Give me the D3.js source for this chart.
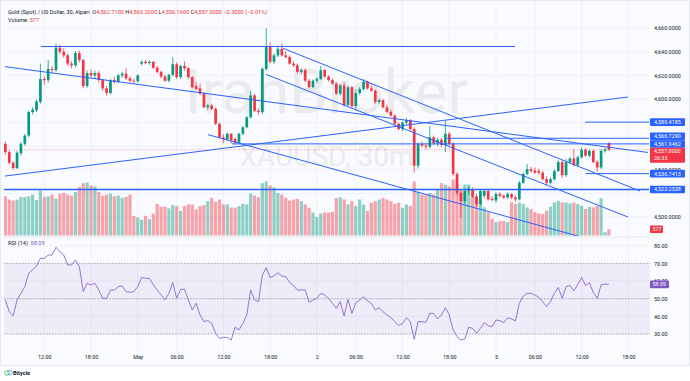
<!DOCTYPE html>
<html>
<head>
<meta charset="utf-8">
<script src="https://cdn.jsdelivr.net/npm/d3@7"></script>
<style>
	body { margin: 0; background: #ffffff; }
	svg { display: block; font-family: Roboto, 'Liberation Sans', sans-serif; }
</style>
</head>
<body>
<div id="chart"></div>
<script>
let width = 690
let height = 381

// 30m candles, Apr 30 07:00 -> May 5 15:30
let opens = [4562,4555,4546,4541.5,4554,4562,4569,4589,4590.5,4597.5,4617,4616,4625.5,4624.5,4643.5,4640,4637,4630,4628.5,4639,
	4633,4611,4622,4620,4622,4616,4609,4605,4616,4614.5,4620,4621.5,4617.5,4615.5,4615,4630,4631.5,4630.5,4631.5,4626.5,
	4623,4619,4615.5,4620.5,4629.5,4618.5,4628,4626,4618.5,4611,4609,4604.5,4593,4594.5,4591.5,4579,4567.5,4566,4570.5,4566,
	4563,4570.5,4576,4584.5,4603,4590,4589,4625.5,4644,4631.5,4637,4642.5,4637,4635.5,4630,4628.5,4623,4624.5,4615.5,4610,
	4615.5,4617,4624.5,4619,4616,4613,4604.5,4611.5,4595,4610,4594,4605,4608.5,4614.5,4609,4607,4597.5,4599,4593,4589,
	4586,4579,4574.5,4580,4582,4574.5,4543.5,4562,4560.5,4559.5,4567.5,4562.5,4565.5,4561,4570.5,4562,4536.5,4520.5,4513.5,4522,
	4523.5,4517.5,4511,4518,4522,4515.5,4514,4519.5,4518,4516.5,4519.5,4516.5,4515,4529,4536.5,4540.5,4539.5,4539,4537.5,4532,
	4529,4532,4539,4546.5,4535.5,4546.5,4549.5,4544,4550.5,4557,4552,4556,4546.5,4542,4556,4562.71]
let highs = [4564,4556.5,4547,4556,4563.5,4570.5,4590,4593,4599.5,4630,4619,4633,4628,4647,4646,4643,4638.5,4632,4640.5,4641,
	4634,4624,4625,4624,4623.5,4617,4611,4617,4619,4621.5,4623,4626,4619,4617,4621,4632.5,4633,4632.5,4632,4628,
	4624,4620.5,4621.5,4635.5,4631,4629,4632,4627,4619.5,4614.5,4613,4606,4596,4596,4593,4580,4570,4571.5,4571,4567.5,
	4571.5,4577,4585.5,4607,4604.5,4592,4627,4660,4648,4638.5,4644,4647,4640.5,4637,4632,4630,4626,4626,4617,4616.5,
	4618.5,4628,4625.5,4620,4617.5,4614,4612.5,4614,4611.5,4611,4608,4610,4617,4615.5,4611.5,4608,4600.5,4600,4595,4591,
	4587,4580,4581,4584,4583,4576,4563,4564,4563,4577,4569,4567,4567,4581.5,4572,4563.5,4538,4522,4523.5,4526,
	4525,4520,4523.5,4523.5,4523.5,4517.5,4521,4521,4519,4521,4520,4518,4530.5,4537.5,4545,4542.5,4542,4541,4539,4534.5,
	4533.5,4540.5,4548,4548,4549,4551,4557.5,4552,4559,4558,4557.5,4557,4548,4557.5,4559,4563.2]
let lows = [4553,4545,4540,4540.5,4552,4560.5,4567.5,4587,4589,4596,4612,4614,4622,4623,4638,4635,4628,4626,4627,4631,
	4609,4609.5,4618,4617,4614,4607,4603,4604,4613,4613.5,4618,4616,4614,4613.5,4614,4628.5,4629.5,4629,4625.5,4621.5,
	4617.5,4614.5,4614,4619,4617,4617,4624,4617,4609,4607.5,4603.5,4592,4591,4590.5,4578,4566.5,4562.5,4564.5,4562,4561.5,
	4562,4569,4575,4583.5,4589,4586.5,4587,4624,4630,4629.5,4635.5,4636,4634.5,4629,4627,4621.5,4621,4614.5,4609,4609,
	4613.5,4616,4618,4615,4612,4603.5,4603,4593.5,4594,4592.5,4591,4603.5,4607,4608,4606,4596,4596,4592,4588,4585,
	4578,4573.5,4573,4578.5,4573.5,4537.5,4541,4559,4557.5,4558,4561,4560,4559,4555,4560.5,4535,4518.5,4499.5,4511,4519,
	4516,4509,4509.5,4516,4514,4513.5,4512,4516.5,4515,4515.5,4515,4513,4514,4528,4535.5,4537.5,4536.5,4536,4531,4527,
	4527.5,4531,4538,4533,4534,4545,4543,4542.5,4549.5,4551,4550.5,4545.5,4538.5,4540.5,4554.5,4556.16]
let closes = [4555,4546,4541.5,4554.5,4562,4569,4589,4591,4598,4617,4616,4625.5,4624.5,4643.5,4640,4637,4630,4628.5,4639,4633,
	4611,4622,4620,4622,4616,4609,4605,4616,4614.5,4620,4621.5,4617.5,4615.5,4615,4620,4631.5,4630.5,4631.5,4626.5,4623,
	4619,4615.5,4620.5,4629.5,4618.5,4628,4626,4618.5,4610,4608.5,4604.5,4593,4594.5,4591.5,4579,4567.5,4566,4570.5,4565,4563,
	4570.5,4576,4584.5,4603,4590,4589,4625.5,4644,4631.5,4637,4642.5,4637,4635.5,4630,4628.5,4623,4624.5,4615.5,4610,4615.5,
	4617,4624.5,4619,4616,4613,4604.5,4611.5,4595,4610,4594,4605,4608.5,4614.5,4609,4607,4597.5,4599,4593,4589,4586,
	4579,4574.5,4580,4582,4574.5,4543.5,4562,4560.5,4559.5,4567.5,4562.5,4565.5,4561,4570.5,4562,4536.5,4520.5,4513.5,4522,4523.5,
	4517.5,4511,4522,4522,4515,4514.5,4519.5,4518,4516.5,4519.5,4516.5,4515,4529,4536.5,4540.5,4539,4537.5,4537.5,4532,4529,
	4532,4539,4546.5,4535.5,4546.5,4549.5,4544,4550.5,4557,4552,4556,4546.5,4542,4556,4557.3,4557]
let volumes = [3600,3300,3210,3300,3540,3540,3600,3750,3240,4110,3540,3600,3750,3390,3840,3900,3750,3660,3990,4440,
	4800,4860,4590,4500,3990,3660,3750,3840,3600,3660,3450,3540,3750,1800,1650,1440,1800,1500,2010,2910,
	2640,2640,2490,2790,2700,2250,2700,2850,2850,2400,2700,2790,3150,3450,3090,3300,2850,2850,2550,2550,
	2700,2910,2850,3840,3660,3510,4800,4950,4590,4410,3900,3750,3450,3210,3300,3360,3150,2850,2550,2100,
	1710,2010,2100,2100,2160,3450,3510,3300,2850,3150,2700,3300,2850,2250,3000,3150,3300,3450,3300,3150,
	2910,3000,2550,2850,2700,4950,4000,3770,3700,3900,3770,4200,4800,4660,4500,5130,4680,4230,4680,4680,
	3930,3480,3180,2580,2130,1530,1230,1320,1320,1230,3030,2880,3030,2880,2580,2430,2130,2040,1980,2280,
	2640,3030,3180,3030,3030,2940,3030,2880,2730,2430,2640,2580,2700,3420,300,577]
let rsi = [49.3,42.6,40.2,49.3,53.0,56.8,64.4,66.2,68.5,72.8,72.8,74.7,74.7,79.1,76.6,74.7,69.1,69.1,71.9,68.1,
	54.0,58.7,57.8,58.7,54.9,50.2,50.2,54.9,54.9,56.8,57.2,54.0,53.6,54.0,56.8,62.1,61.5,61.5,57.8,54.9,
	52.1,49.3,53.0,59.1,50.2,55.3,55.3,49.3,43.6,47.4,40.8,37.0,37.6,36.0,30.4,27.5,28.1,28.1,26.6,33.8,
	32.3,36.0,40.8,54.9,49.3,48.3,63.4,67.6,61.9,63.0,64.7,62.8,62.5,59.1,57.4,54.9,54.9,54.9,47.9,49.3,
	50.2,53.0,52.1,50.2,47.4,44.5,48.3,40.2,49.6,41.7,47.7,49.3,51.1,48.7,47.4,43.6,44.9,42.6,40.8,39.4,
	37.0,34.9,36.0,39.2,37.0,27.0,37.0,37.0,36.6,41.7,41.7,38.5,40.8,44.9,40.8,32.3,28.5,26.6,27.2,33.8,
	33.2,30.4,33.2,36.4,34.7,34.2,37.9,37.6,36.4,39.2,38.5,37.4,47.4,51.5,53.0,53.0,52.1,50.8,48.3,45.5,
	48.3,53.0,56.4,50.2,56.8,57.4,54.5,58.1,62.1,57.4,59.1,53.4,50.2,57.8,58.3,58.09]

let timeTicks = [10,22,34,44,56,68,80,90,102,114,126,136,148,160]
let timeLabels = ['12:00','18:00','May','06:00','12:00','18:00','2','06:00','12:00','18:00','5','06:00','12:00','18:00']
let priceTicks = [4500,4520,4540,4560,4580,4600,4620,4640,4660]
// labels of these ticks sit under the coloured price boxes
let hiddenPriceTicks = [4520,4560,4580]
let rsiTicks = [30,40,50,60,70,80]
let rsiLevels = [70,50,30]

// drawn trend lines [bar, price, bar, price]
let trendLines = [
	[9.15,4644.5,130.9,4644.5],
	[-0.1,4627.4,165,4554.7],
	[-0.1,4534.7,159.9,4601.7],
	[52.0,4569.8,148,4483],
	[71.3,4643,163,4522],
	[66.9,4620.9,159.9,4500],
]
let levelValues = [4580.4185,4566.7290,4561.9462,4536.7413,4523.2538]
let levelStarts = [148.9,113.4,58.2,149,-1]

let lastPrice = 4557.0
let lastVolume = 577
let lastRsi = 58.09
let countdown = '26:33'

let plot = { left : 4, right : 649, top : 1, bottom : 236 }
let rsiPane = { top : 238, bottom : 352 }

let up = '#089981'
let down = '#f23645'
let blue = '#2962ff'
let purple = '#7e57c2'
let textColor = '#131722'
let gridColor = '#eef1f7'

let x = d3.scaleLinear()
	.domain([0,155])
	.range([5.36,608.9])

let y = d3.scaleLinear()
	.domain([4500,4600])
	.range([217,99])

let yVol = d3.scaleLinear()
	.domain([0,5000])
	.range([235.5,181])

let yRsi = d3.scaleLinear()
	.domain([30,80])
	.range([334,245.7])

let svg = d3.select('#chart').append('svg')
	.attr('width',width)
	.attr('height',height)
	.style('font-size','5.4px')

svg.append('rect')
	.attr('x',0.5).attr('y',0.5)
	.attr('width',width-1).attr('height',365)
	.attr('fill','#fafbfe')
	.attr('stroke','#e6e9f0')

let defs = svg.append('defs')
defs.append('clipPath').attr('id','mainClip')
	.append('rect')
	.attr('x',plot.left).attr('y',plot.top)
	.attr('width',plot.right-plot.left).attr('height',plot.bottom-plot.top)

// grid
let grid = svg.append('g')
grid.selectAll('.vgrid')
	.data(timeTicks)
	.enter()
	.append('line')
	.attr('x1',(d) => x(d)).attr('x2',(d) => x(d))
	.attr('y1',plot.top).attr('y2',rsiPane.bottom)
	.attr('stroke',gridColor)
grid.selectAll('.hgrid')
	.data(priceTicks)
	.enter()
	.append('line')
	.attr('x1',plot.left).attr('x2',plot.right)
	.attr('y1',(d) => y(d)).attr('y2',(d) => y(d))
	.attr('stroke',gridColor)
grid.selectAll('.rgrid')
	.data(rsiTicks)
	.enter()
	.append('line')
	.attr('x1',plot.left).attr('x2',plot.right)
	.attr('y1',(d) => yRsi(d)).attr('y2',(d) => yRsi(d))
	.attr('stroke',gridColor)

svg.append('line')
	.attr('x1',plot.left).attr('x2',plot.right)
	.attr('y1',237).attr('y2',237)
	.attr('stroke','#e3e6ee')

// watermark
svg.append('text')
	.text('IranBroker')
	.attr('x',(plot.left+plot.right)/2)
	.attr('y',113)
	.attr('text-anchor','middle')
	.attr('fill','#e9ebef')
	.style('font-size','62px')
svg.append('text')
	.text('XAUUSD, 30m')
	.attr('x',(plot.left+plot.right)/2)
	.attr('y',166)
	.attr('text-anchor','middle')
	.attr('fill','#e9ebef')
	.style('font-size','28px')

let main = svg.append('g').attr('clip-path','url(#mainClip)')

let bars = d3.range(opens.length)
let isUp = (i) => closes[i] >= opens[i]

main.selectAll('.vol')
	.data(bars)
	.enter()
	.append('rect')
	.attr('x',(i) => x(i)-1.6)
	.attr('width',3.2)
	.attr('y',(i) => yVol(volumes[i]))
	.attr('height',(i) => yVol(0)-yVol(volumes[i]))
	.attr('fill',(i) => isUp(i) ? up : down)
	.attr('fill-opacity',0.45)

main.append('line')
	.attr('x1',plot.left).attr('x2',plot.right)
	.attr('y1',y(lastPrice)).attr('y2',y(lastPrice))
	.attr('stroke',down)
	.attr('stroke-opacity',0.5)
	.attr('stroke-dasharray','1,1.5')

main.selectAll('.wick')
	.data(bars)
	.enter()
	.append('line')
	.attr('x1',(i) => x(i)).attr('x2',(i) => x(i))
	.attr('y1',(i) => y(highs[i])).attr('y2',(i) => y(lows[i]))
	.attr('stroke',(i) => isUp(i) ? up : down)
	.attr('stroke-width',0.8)

main.selectAll('.body')
	.data(bars)
	.enter()
	.append('rect')
	.attr('x',(i) => x(i)-1.35)
	.attr('width',2.7)
	.attr('y',(i) => y(Math.max(opens[i],closes[i])))
	.attr('height',(i) => Math.max(0.8,Math.abs(y(opens[i])-y(closes[i]))))
	.attr('fill',(i) => isUp(i) ? up : down)

main.selectAll('.trend')
	.data(trendLines)
	.enter()
	.append('line')
	.attr('x1',(d) => x(d[0])).attr('y1',(d) => y(d[1]))
	.attr('x2',(d) => x(d[2])).attr('y2',(d) => y(d[3]))
	.attr('stroke',blue)
	.attr('stroke-width',1)

main.selectAll('.level')
	.data(levelValues)
	.enter()
	.append('line')
	.attr('x1',(d,i) => Math.max(plot.left,x(levelStarts[i])))
	.attr('x2',plot.right)
	.attr('y1',(d) => y(d)).attr('y2',(d) => y(d))
	.attr('stroke',blue)
	.attr('stroke-width',(d,i) => i == 4 ? 1.6 : 1)

// RSI pane
let rsiG = svg.append('g')
rsiG.append('rect')
	.attr('x',plot.left).attr('width',plot.right-plot.left+1)
	.attr('y',yRsi(70)).attr('height',yRsi(30)-yRsi(70))
	.attr('fill',purple)
	.attr('fill-opacity',0.09)
rsiG.selectAll('.lvl')
	.data(rsiLevels)
	.enter()
	.append('line')
	.attr('x1',plot.left).attr('x2',plot.right+1)
	.attr('y1',(d) => yRsi(d)).attr('y2',(d) => yRsi(d))
	.attr('stroke','#9598a1')
	.attr('stroke-width',0.7)
	.attr('stroke-dasharray','1.5,1.5')
rsiG.append('path')
	.datum(rsi)
	.attr('d',d3.line().x((d,i) => x(i)).y((d) => yRsi(d)))
	.attr('fill','none')
	.attr('stroke',purple)
	.attr('stroke-width',0.8)

// axes
let priceAxis = d3.axisRight(y)
	.tickValues(priceTicks.filter((d) => !hiddenPriceTicks.includes(d)))
	.tickSize(0)
	.tickPadding(4)
	.tickFormat(d3.format(',.4f'))
svg.append('g')
	.attr('transform',`translate(${plot.right+1},0)`)
	.call(priceAxis)
	.call((g) => g.select('.domain').remove())

let rsiAxis = d3.axisRight(yRsi)
	.tickValues(rsiTicks)
	.tickSize(0)
	.tickPadding(4)
	.tickFormat(d3.format('.2f'))
svg.append('g')
	.attr('transform',`translate(${plot.right+1},0)`)
	.call(rsiAxis)
	.call((g) => g.select('.domain').remove())

let timeAxis = d3.axisBottom(x)
	.tickValues(timeTicks)
	.tickSize(0)
	.tickPadding(3)
	.tickFormat((d,i) => timeLabels[i])
svg.append('g')
	.attr('transform',`translate(0,${rsiPane.bottom})`)
	.call(timeAxis)
	.call((g) => g.select('.domain').remove())

svg.selectAll('.tick text')
	.attr('fill',textColor)
	.style('font-size','5.4px')
	.style('font-family','Roboto, sans-serif')

// price labels on the axis
let boxes = levelValues.map((v) => ({ value : v, color : blue, h : 7.6 }))
boxes.push({ value : lastPrice, color : down, h : 7.6, extra : countdown })
boxes.forEach((b) => { b.cy = y(b.value) })
boxes.sort((a,b) => a.cy - b.cy)
for (let k = 0; k < 30; k++) {
	for (let j = 1; j < boxes.length; j++) {
		let gap = boxes[j].cy - boxes[j-1].cy
		let need = boxes[j-1].extra ? 15 : 7.6
		if (gap < need) {
			boxes[j-1].cy -= (need-gap)/2
			boxes[j].cy += (need-gap)/2
		}
	}
}

let labelG = svg.append('g')
boxes.forEach((b) => {
	labelG.append('rect')
		.attr('x',plot.right+1).attr('y',b.cy-b.h/2)
		.attr('width',35).attr('height',b.extra ? 15 : b.h)
		.attr('rx',1)
		.attr('fill',b.color)
	labelG.append('text')
		.text(d3.format(',.4f')(b.value))
		.attr('x',plot.right+5).attr('y',b.cy)
		.attr('dy','0.35em')
		.attr('fill','#ffffff')
	if (b.extra) {
		labelG.append('text')
			.text(b.extra)
			.attr('x',plot.right+5).attr('y',b.cy+7)
			.attr('dy','0.35em')
			.attr('fill','#ffffff')
	}
})

labelG.append('rect')
	.attr('x',plot.right+1).attr('y',yVol(lastVolume)-3.8)
	.attr('width',13).attr('height',7.6)
	.attr('rx',1)
	.attr('fill',down)
labelG.append('text')
	.text(lastVolume)
	.attr('x',plot.right+3.5).attr('y',yVol(lastVolume))
	.attr('dy','0.35em')
	.attr('fill','#ffffff')

labelG.append('rect')
	.attr('x',plot.right+1).attr('y',yRsi(lastRsi)-3.8)
	.attr('width',19).attr('height',7.6)
	.attr('rx',1)
	.attr('fill',purple)
labelG.append('text')
	.text(lastRsi.toFixed(2))
	.attr('x',plot.right+3.5).attr('y',yRsi(lastRsi))
	.attr('dy','0.35em')
	.attr('fill','#ffffff')

// legend
let legend = svg.append('text')
	.attr('x',8).attr('y',13.5)
	.style('font-size','5.6px')
	.attr('fill',textColor)
legend.append('tspan').text('Gold (Spot) / US Dollar, 30, Alpari\u00a0\u00a0')
let ohlc = [['O','4,562.7100'],['H','4,563.2000'],['L','4,556.1600'],['C','4,557.0000']]
ohlc.forEach((d) => {
	legend.append('tspan').text(d[0])
	legend.append('tspan').text(d[1] + '\u00a0').attr('fill',down)
})
legend.append('tspan').text('\u22120.3000 (\u22120.01%)').attr('fill',down)

let volLegend = svg.append('text')
	.attr('x',8).attr('y',21.5)
	.style('font-size','5.6px')
	.attr('fill',textColor)
volLegend.append('tspan').text('Volume\u00a0\u00a0')
volLegend.append('tspan').text(lastVolume).attr('fill',down)

let rsiLegend = svg.append('text')
	.attr('x',8).attr('y',245)
	.style('font-size','5.6px')
	.attr('fill',textColor)
rsiLegend.append('tspan').text('RSI (14)\u00a0\u00a0')
rsiLegend.append('tspan').text(lastRsi.toFixed(2)).attr('fill',purple)

// footer logo
let logo = svg.append('g').attr('transform','translate(7,373)')
logo.append('circle').attr('cx',0).attr('cy',0).attr('r',2.3)
	.attr('fill','none').attr('stroke','#4caf50').attr('stroke-width',0.8)
logo.append('circle').attr('cx',3).attr('cy',-0.5).attr('r',2.3)
	.attr('fill','none').attr('stroke','#42a5f5').attr('stroke-width',0.8)
svg.append('text')
	.text('Bitycle')
	.attr('x',13).attr('y',375)
	.attr('fill',textColor)
	.style('font-size','5.6px')
	.style('font-weight','bold')
</script>
</body>
</html>
